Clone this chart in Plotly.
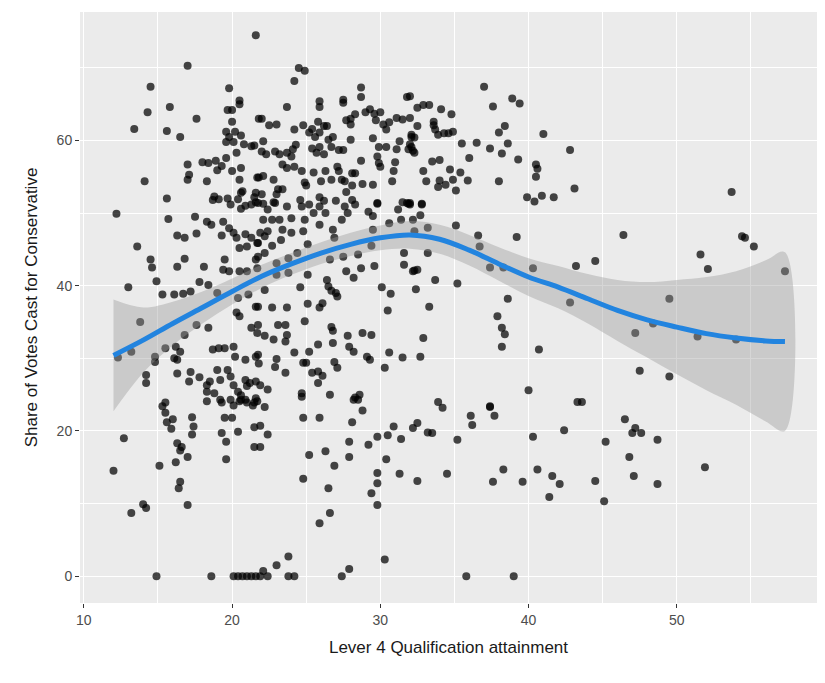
import plotly.graph_objects as go

# ---- scatter points (Level 4 qualification %, Conservative vote share %) ----
pts = [
(21.6,74.5),(17.0,70.3),(14.5,67.4),(19.8,67.2),(20.5,65.5),(20.5,65.0),(15.8,64.6),(14.3,63.9),(17.6,63.0),(19.7,64.2),(20.0,64.2),(20.0,62.6),(21.8,63.0),(13.4,61.6),(15.6,61.3),(16.5,60.5),
(19.6,61.2),(20.2,61.2),(19.8,60.5),(20.6,60.7),(19.6,59.8),(20.1,59.8),(20.8,59.5),
(21.3,59.2),(20.3,58.3),(19.6,57.6),(17.0,56.7),(18.0,57.0),(18.4,56.9),(18.9,57.2),(19.3,56.5),(19.0,55.9),
(17.1,55.3),(17.0,54.6),(18.3,54.4),(20.0,55.8),(20.6,56.2),(20.5,54.6),(21.8,54.9),(14.1,54.4),(20.7,53.0),(20.6,52.8),(21.6,52.8),(15.6,52.0),(18.8,52.3),(19.1,51.9),(20.4,51.9),
(24.5,70.0),(24.9,69.6),(24.2,68.2),(28.7,67.3),(28.7,66.0),(31.8,66.0),(23.7,64.6),(25.9,65.4),(25.9,64.6),(27.5,65.6),(27.5,65.2),(22.0,63.0),(22.5,62.1),(23.0,62.2),(24.2,61.5),
(24.8,62.1),(25.4,61.6),(25.8,62.6),(26.2,62.0),(26.4,62.0),(25.2,61.1),(25.9,61.1),(25.6,60.5),
(28.0,63.0),(27.7,62.8),(28.3,63.6),(28.0,62.2),
(29.0,63.9),(29.3,64.3),(29.6,63.7),(30.0,63.9),(29.7,62.8),(30.2,62.2),(30.4,61.5),(30.6,62.5),(31.1,63.1),(31.5,62.9),
(32.1,60.5),(32.1,59.1),(32.3,58.3),(22.1,59.9),(21.5,59.3),(22.0,58.5),(22.3,58.1),
(22.9,58.5),(23.2,58.1),(23.7,58.3),(24.1,58.8),(24.3,59.4),(24.0,57.8),
(25.4,58.9),(25.9,59.1),(25.7,58.3),(26.2,58.1),(26.5,60.1),(26.8,60.5),(26.7,59.1),(27.2,58.7),(27.5,58.7),(28.0,60.1),
(29.5,60.3),(29.9,59.1),(30.4,59.1),(29.8,57.8),(29.9,56.9),(30.0,56.4),(31.1,58.8),(31.3,59.9),(31.9,58.8),
(31.0,57.0),(30.9,55.8),(30.8,54.4),(28.7,57.2),(23.4,56.7),(23.7,56.2),(24.2,56.4),(21.7,54.9),(22.1,55.1),(22.8,54.6),
(24.7,55.8),(25.5,55.6),(26.3,55.8),(27.1,56.4),(27.2,55.8),(27.4,54.6),(28.1,55.5),(28.3,55.5),
(24.9,54.2),(25.0,53.8),(26.0,54.4),(26.7,54.6),(27.6,54.4),(28.1,53.8),(28.8,54.0),(27.7,52.9),(29.5,53.9),
(23.1,53.3),(23.4,53.3),(23.0,52.6),(22.0,52.6),(21.5,52.2),
(24.6,51.8),(25.9,52.2),(26.2,51.7),(27.0,51.7),(28.1,51.8),(29.8,51.3),(31.5,51.5),(31.9,51.3),(22.1,51.3),(22.8,51.5),
(32.0,66.1),(37.0,67.4),(38.9,65.8),(39.4,65.1),(37.6,64.7),
(32.5,64.5),(32.9,64.9),(33.3,64.9),(34.1,64.3),(34.8,63.6),
(32.0,63.1),(32.5,62.0),(33.6,62.6),(33.6,62.1),(33.7,61.5),(33.9,60.8),(34.3,61.0),(34.6,61.0),(34.9,61.2),(32.1,60.8),(32.3,60.4),(32.0,59.5),(32.2,58.6),
(38.0,61.1),(38.4,62.0),(41.0,60.9),(35.5,59.6),(36.5,59.7),(37.4,58.9),(38.2,58.2),(38.6,59.6),(36.0,57.6),(39.3,57.4),(42.8,58.7),(33.5,57.1),(34.0,57.3),(32.9,55.8),(34.7,56.0),(35.4,55.6),
(33.1,54.4),(34.0,54.5),(33.9,53.6),(34.4,53.9),(34.9,54.6),(35.1,53.1),(35.9,54.5),(38.0,54.4),(40.5,56.7),(40.6,56.1),(40.5,55.0),(43.1,53.4),(39.9,52.2),(40.4,51.6),(40.9,52.4),(41.7,52.2),(32.0,51.4),(32.8,51.3),
(53.7,52.9),
(12.2,49.9),(15.7,49.2),(17.5,49.5),(18.3,48.8),(18.6,48.4),(19.4,48.8),(19.8,47.9),(16.3,46.9),(16.8,46.6),(17.6,47.2),
(19.3,46.9),(20.1,47.3),(20.3,46.6),(20.9,47.1),(20.5,45.2),(21.0,45.4),(21.3,46.6),(21.7,45.9),(20.6,50.6),(20.9,51.0),(21.3,51.2),(21.6,51.5),(19.9,51.2),(18.7,51.8),(19.7,52.0),
(13.6,45.4),(14.5,43.6),(14.6,42.5),(16.3,42.6),(16.8,43.7),(18.1,42.6),
(19.5,43.6),(19.4,42.2),(19.8,42.0),(20.5,42.0),(21.0,42.0),(21.6,43.6),(21.7,42.4),
(13.0,39.8),(14.9,40.6),(15.3,38.8),(16.1,38.8),(16.7,38.9),(17.2,39.2),(17.8,40.5),(18.4,40.1),
(19.0,39.0),(20.4,38.3),(20.3,36.3),(20.5,35.8),(21.6,37.1),(21.1,38.8),
(13.8,35.0),(17.6,34.6),(16.8,33.2),(18.4,34.2),(21.3,34.2),(21.7,33.5),
(12.3,30.1),(13.2,30.9),(15.5,31.4),(16.2,31.6),(16.5,30.9),(16.1,30.0),(16.3,29.8),(14.8,30.2),(14.8,29.5),
(18.7,31.2),(19.1,31.4),(19.5,31.4),(20.1,31.6),(20.2,30.2),(20.9,29.8),(21.6,30.2),(21.8,29.3),
(14.2,27.7),(14.2,26.6),(16.3,27.9),(17.2,28.1),(17.1,26.8),(17.8,27.4),(18.3,26.3),(18.5,26.8),(19.2,27.0),(19.0,28.4),(19.7,28.4),
(19.9,27.5),(20.1,26.3),(20.9,27.0),(21.0,26.2),(21.2,26.6),(21.6,26.8),(20.6,24.3),(20.9,24.3),(21.6,24.5),(18.3,25.4),(18.8,25.2),(19.2,24.3),(19.9,24.3),(20.4,25.4),(20.6,24.9),
(18.3,24.1),(19.3,23.9),(20.1,23.5),(20.5,24.1),(21.0,23.9),(21.4,23.5),(21.7,24.1),
(15.3,23.4),(15.5,23.9),(15.5,22.5),(15.6,21.2),(16.0,21.6),(15.9,20.3),(17.3,21.9),(17.4,20.6),(17.3,19.5),
(19.5,21.8),(20.0,21.8),(19.3,19.7),(19.6,18.5),(20.4,19.9),(21.5,20.5),(21.5,17.8),
(16.3,18.3),(16.6,17.8),(16.5,17.3),(17.0,16.4),
(12.7,19.0),(12.0,14.5),(15.1,15.2),(16.2,15.7),(19.6,16.1),(16.5,13.0),(16.4,12.1),(14.0,9.9),(14.2,9.4),(13.2,8.7),(17.0,9.8),
(14.9,0),(18.6,0),(20.1,0),(20.4,0),(20.7,0),(21.0,0),(21.3,0),(21.6,0),(21.9,0),
(21.5,23.9),(22.2,23.3),(21.9,20.7),(22.4,19.5),(21.9,17.8),(24.8,21.8),(25.9,21.8),(28.1,21.2),(28.8,22.8),(28.2,24.3),(28.5,24.3),
(27.9,18.5),(29.2,18.1),(27.9,16.4),(29.8,19.2),(30.5,19.4),(30.9,20.6),(31.4,18.9),(32.2,20.4),
(25.2,16.7),(26.3,17.2),(26.9,15.2),(24.8,13.4),(26.5,12.1),(30.4,16.1),
(29.8,14.2),(29.8,12.8),(29.4,11.4),(29.8,9.8),(31.3,14.1),(26.6,8.7),(25.9,7.3),(30.3,2.3),
(23.8,2.7),(23.0,1.5),(22.1,0.7),(22.4,0.0),(23.8,0),(24.2,0),(27.4,0),(27.9,1.0),
(33.9,24.0),(34.2,23.2),(37.4,23.3),(37.7,22.1),(36.1,22.1),(36.2,20.8),(32.5,21.1),(33.2,19.8),(33.5,19.7),(35.2,18.8),(40.3,19.2),(42.4,20.1),(43.3,24.0),
(32.5,13.1),(34.5,14.1),(38.3,14.7),(37.6,13.0),(39.6,13.0),(40.6,14.7),(41.6,13.8),(42.1,12.7),(41.4,10.9),(35.8,0),(39.0,0),
(46.5,21.6),(47.2,20.4),(47.0,19.7),(47.6,19.7),(45.2,18.5),(48.7,18.8),(46.8,16.4),(51.9,15.0),(44.5,13.1),(47.1,13.8),(48.7,12.7),(45.1,10.3),
(21.75,51.4),(22.4,50.5),(22.9,51.4),(23.7,50.9),(24.7,50.9),(25.2,51.2),(25.9,50.9),(26.3,50.0),(22.1,49.1),(22.7,49.1),(23.2,49.1),(24.0,49.3),(24.9,49.1),(25.5,50.0),
(21.9,47.3),(22.4,47.5),(23.4,47.7),(24.0,47.3),(24.8,47.5),(21.75,45.9),(22.2,46.8),(22.7,45.5),(23.3,46.3),(21.75,44.0),(22.2,44.5),
(25.9,48.4),(26.8,47.7),(27.4,49.1),(27.6,50.9),(27.8,50.0),(28.3,51.2),(29.2,50.2),(29.5,49.6),(29.8,51.4),(31.2,50.5),(31.8,51.4),
(26.9,46.6),(25.1,45.7),(24.4,44.5),(23.8,43.8),(23.0,43.1),(26.6,43.6),(27.5,44.0),(28.5,44.3),(29.4,45.5),(29.5,47.7),(30.6,48.6),(31.4,49.1),(32.2,49.1),
(31.6,44.5),(31.6,42.9),(32.2,42.0),(28.7,42.4),(29.6,42.7),(27.7,42.0),(28.2,41.1),
(26.4,40.8),(26.5,39.9),(26.7,39.3),(27.0,39.0),(27.1,38.5),(24.6,39.8),(25.1,41.5),(23.0,41.5),(23.8,41.8),(22.2,39.4),(30.1,39.8),(30.7,38.9),(30.5,36.6),
(21.75,37.1),(22.7,37.0),(23.7,37.0),(25.1,37.5),(25.9,37.0),(26.1,37.6),(24.9,35.1),(21.75,34.6),(23.1,34.6),(23.6,34.6),
(22.2,33.1),(22.8,32.6),(23.6,32.3),(23.7,33.2),(26.7,34.3),(26.8,33.8),(27.8,33.1),(28.8,33.5),(29.4,33.2),
(25.8,31.9),(26.8,32.1),(27.9,31.6),(28.2,30.9),(24.2,30.8),(25.2,30.9),(21.75,30.5),(23.0,29.9),(22.9,28.8),
(29.1,30.2),(29.3,29.8),(30.6,30.8),(31.5,30.1),(24.8,29.4),(25.0,29.4),(26.9,29.5),(27.1,28.7),(30.3,28.7),
(23.6,28.0),(25.4,28.0),(25.8,28.2),(26.1,27.6),(25.8,26.6),(21.9,26.3),(22.4,25.7),(24.7,25.2),(24.7,24.7),(26.6,25.0),(28.3,24.6),(28.6,25.0),
(32.0,51.2),(32.8,51.2),(32.7,49.7),(32.3,47.5),(33.2,48.0),(35.1,48.3),(36.6,46.9),(36.7,45.4),(39.2,46.7),(33.2,44.5),
(37.4,42.5),(38.3,42.5),(40.3,42.4),(43.2,42.7),(32.3,42.1),(32.5,42.2),(33.7,40.8),(35.2,40.3),(32.4,39.5),(38.6,38.2),(42.8,37.7),(33.3,37.1),
(37.9,35.8),(38.2,34.2),(38.4,33.3),(38.2,31.6),(40.7,31.2),(32.9,32.8),(32.7,30.2),(40.0,25.6),(37.4,23.4),
(46.4,47.0),(54.4,46.8),(54.6,46.6),(55.2,45.4),(51.6,44.3),(52.1,42.3),(44.5,43.4),(57.3,42.0),(49.5,38.2),
(47.2,33.5),(48.4,34.8),(51.4,33.0),(54.0,32.6),(47.5,28.3),(49.5,27.5),(43.6,24.0),
]
level4 = [p[0] for p in pts]
con_share = [p[1] for p in pts]

# ---- loess smoother ----
fit_x = [12.0, 14, 16, 18, 20, 22, 24, 26, 28, 30, 32, 34, 36, 38, 40, 42, 44, 46, 48, 50, 52, 54, 56, 57.3]
fit_y = [30.4, 32.5, 34.8, 37.0, 39.2, 41.3, 43.0, 44.5, 45.7, 46.6, 47.0, 46.4, 44.9, 43.0, 41.2, 39.8, 38.2, 36.6, 35.3, 34.3, 33.4, 32.8, 32.4, 32.3]
fit_se = [7.7, 4.5, 3.0, 2.2, 1.8, 1.6, 1.5, 1.5, 1.6, 1.7, 1.9, 2.0, 2.1, 2.3, 2.6, 2.9, 3.4, 4.2, 5.2, 6.5, 7.8, 9.2, 11.1, 12.3]

x_ticks = [10, 20, 30, 40, 50]
y_ticks = [0, 20, 40, 60]

upper = [f + s for f, s in zip(fit_y, fit_se)]
lower = [f - s for f, s in zip(fit_y, fit_se)]

fig = go.Figure()
fig.add_trace(go.Scatter(
    x=level4, y=con_share, mode="markers",
    marker=dict(size=8, color="rgba(0,0,0,0.72)", line=dict(width=0)),
    hoverinfo="x+y"))
fig.add_trace(go.Scatter(
    x=fit_x + fit_x[::-1], y=upper + lower[::-1],
    fill="toself", fillcolor="rgba(153,153,153,0.4)",
    line=dict(width=0, shape="spline"), mode="lines", hoverinfo="skip"))
fig.add_trace(go.Scatter(
    x=fit_x, y=fit_y, mode="lines",
    line=dict(color="#2284DF", width=5, shape="spline"), hoverinfo="skip"))

axis_common = dict(
    showgrid=True, gridcolor="white", gridwidth=1.3, zeroline=False,
    ticks="outside", ticklen=4, tickcolor="#333333", tickwidth=1,
    tickfont=dict(family="Liberation Sans, Arial, sans-serif", size=14, color="#4D4D4D"),
    showline=False, automargin=False,
)

# page body has an 8px default margin, so the figure is sized to fit inside
fig.update_layout(
    width=817, height=675,
    margin=dict(l=72, r=8, t=4, b=80),
    plot_bgcolor="#EBEBEB", paper_bgcolor="white",
    showlegend=False,
    font=dict(family="Liberation Sans, Arial, sans-serif"),
    xaxis=dict(
        range=[9.74, 59.46], tickvals=x_ticks, ticktext=[str(v) for v in x_ticks],
        minor=dict(tickvals=[15, 25, 35, 45, 55], showgrid=True, gridcolor="white", gridwidth=0.6, ticks=""),
        title=dict(text="Lever 4 Qualification attainment", font=dict(size=17, color="#1A1A1A"), standoff=14),
        **axis_common),
    yaxis=dict(
        range=[-3.7, 77.7], tickvals=y_ticks, ticktext=[str(v) for v in y_ticks],
        minor=dict(tickvals=[10, 30, 50, 70], showgrid=True, gridcolor="white", gridwidth=0.6, ticks=""),
        title=dict(text="Share of Votes Cast for Conservative", font=dict(size=17, color="#1A1A1A"), standoff=14),
        **axis_common),
)

fig.write_html("out.html")
